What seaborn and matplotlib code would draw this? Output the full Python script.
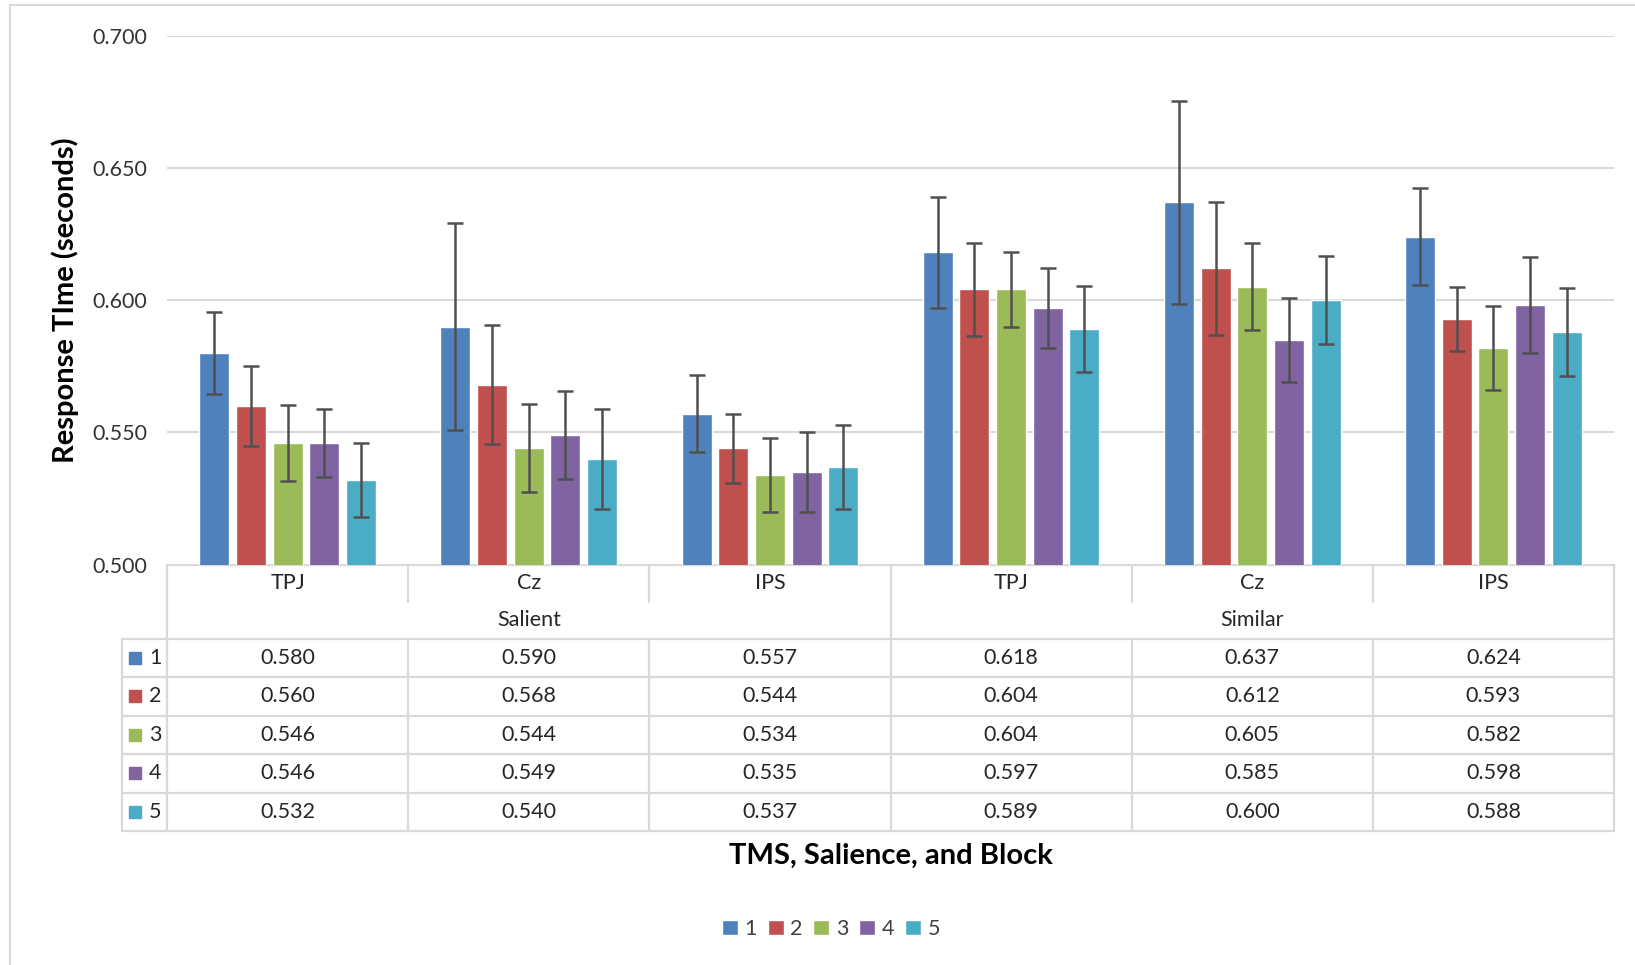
import matplotlib
matplotlib.use("Agg")
import matplotlib.pyplot as plt
from matplotlib.patches import Patch
import seaborn as sns
import pandas as pd

sites = ["TPJ", "Cz", "IPS", "TPJ", "Cz", "IPS"]
salience = ["Salient", "Salient", "Salient", "Similar", "Similar", "Similar"]
blocks = ["1", "2", "3", "4", "5"]
colors = ["#4F81BD", "#C0504D", "#9BBB59", "#8064A2", "#4BACC6"]

block1 = [0.580, 0.590, 0.557, 0.618, 0.637, 0.624]
block2 = [0.560, 0.568, 0.544, 0.604, 0.612, 0.593]
block3 = [0.546, 0.544, 0.534, 0.604, 0.605, 0.582]
block4 = [0.546, 0.549, 0.535, 0.597, 0.585, 0.598]
block5 = [0.532, 0.540, 0.537, 0.589, 0.600, 0.588]

err1 = [0.0155, 0.039, 0.0146, 0.021, 0.0384, 0.0185]
err2 = [0.015, 0.0226, 0.0131, 0.0175, 0.0251, 0.0121]
err3 = [0.0144, 0.0167, 0.014, 0.014, 0.0165, 0.0159]
err4 = [0.013, 0.0165, 0.015, 0.015, 0.0158, 0.0182]
err5 = [0.0139, 0.019, 0.0158, 0.0163, 0.0167, 0.0167]

values = [block1, block2, block3, block4, block5]
errors = [err1, err2, err3, err4, err5]

conds = [s + " " + t for s, t in zip(salience, sites)]
rows = []
for b, vals in zip(blocks, values):
    for c, v in zip(conds, vals):
        rows.append({"cond": c, "block": b, "rt": v})
df = pd.DataFrame(rows)

sns.set_style("white")
plt.rcParams["font.family"] = ["Lato", "DejaVu Sans"]

W, H = 1635, 965
fig = plt.figure(figsize=(W / 100, H / 100), dpi=100)

left_px, right_px = 167, 1614
top_px, bot_px = 35.5, 564.6
ax = fig.add_axes([left_px / W, 1 - bot_px / H, (right_px - left_px) / W, (bot_px - top_px) / H])

sns.barplot(data=df, x="cond", y="rt", hue="block", order=conds, hue_order=blocks,
            palette=colors, errorbar=None, width=0.76, gap=0.18, legend=False,
            saturation=1, ax=ax, zorder=2)

for cont, err in zip(ax.containers, errors):
    xs = [p.get_x() + p.get_width() / 2 for p in cont]
    ys = [p.get_height() for p in cont]
    ax.errorbar(xs, ys, yerr=err, fmt="none", ecolor="#505050", elinewidth=1.8,
                capsize=5.5, capthick=1.8, zorder=3)

ax.set_ylim(0.5, 0.7)
ax.set_xlim(-0.5, len(conds) - 0.5)
ax.set_yticks([0.5, 0.55, 0.6, 0.65, 0.7])
ax.set_yticklabels(["%.3f" % t for t in [0.5, 0.55, 0.6, 0.65, 0.7]], fontsize=15.5, color="#333333")
ax.tick_params(axis="y", length=0, pad=14)
ax.set_xticks([])
ax.set_xlabel("")
ax.set_ylabel("")
ax.yaxis.grid(True, color="#D9D9D9", linewidth=1.5, zorder=0)
ax.set_axisbelow(True)
for s in ax.spines.values():
    s.set_visible(False)

# overlay in pixel coords for data table, titles and border
ov = fig.add_axes([0, 0, 1, 1], zorder=-1)
ov.set_xlim(0, W)
ov.set_ylim(H, 0)
ov.axis("off")

lc = "#D9D9D9"
lw = 1.6
ncol = len(conds)
colw = (right_px - left_px) / ncol
col_edges = [left_px + i * colw for i in range(ncol + 1)]
hdr_left = 122
r0 = bot_px
r1 = r0 + 37.5
r2 = r1 + 36.6
row_h = 38.5
r_end = r2 + row_h * len(blocks)

# chart border
ov.plot([10, W], [5, 5], color=lc, lw=1.5)
ov.plot([10, 10], [5, H], color=lc, lw=1.5)

# table lines
ov.plot([left_px, right_px], [r0, r0], color=lc, lw=lw)
ov.plot([left_px, left_px], [r0, r_end], color=lc, lw=lw)
ov.plot([right_px, right_px], [r0, r_end], color=lc, lw=lw)
ov.plot([hdr_left, hdr_left], [r2, r_end], color=lc, lw=lw)
for i in range(1, ncol):
    ov.plot([col_edges[i], col_edges[i]], [r0, r1], color=lc, lw=lw)
    ov.plot([col_edges[i], col_edges[i]], [r2, r_end], color=lc, lw=lw)
ov.plot([col_edges[3], col_edges[3]], [r1, r2], color=lc, lw=lw)
for k in range(len(blocks) + 1):
    y = r2 + k * row_h
    ov.plot([hdr_left, right_px], [y, y], color=lc, lw=lw)

txt = dict(fontsize=15.5, color="#262626", ha="center", va="center")
for i, s in enumerate(sites):
    ov.text((col_edges[i] + col_edges[i + 1]) / 2, (r0 + r1) / 2, s, **txt)
for j, g in enumerate(["Salient", "Similar"]):
    ov.text((col_edges[3 * j] + col_edges[3 * j + 3]) / 2, (r1 + r2) / 2, g, **txt)
for k, (b, vals) in enumerate(zip(blocks, values)):
    yc = r2 + (k + 0.5) * row_h
    ov.add_patch(plt.Rectangle((hdr_left + 7, yc - 6), 12, 12, color=colors[k]))
    ov.text(hdr_left + 33, yc, b, fontsize=15.5, color="#262626", ha="center", va="center")
    for i, v in enumerate(vals):
        ov.text((col_edges[i] + col_edges[i + 1]) / 2, yc, "%.3f" % v, **txt)

ov.text(65, 300, "Response TIme (seconds)", rotation=90, fontsize=21, fontweight="bold",
        color="#000000", ha="center", va="center")
ov.text((left_px + right_px) / 2, 856, "TMS, Salience, and Block", fontsize=21,
        fontweight="bold", color="#000000", ha="center", va="center")

handles = [Patch(facecolor=c, label=b) for c, b in zip(colors, blocks)]
fig.legend(handles=handles, loc="center", bbox_to_anchor=(831 / W, 1 - 929 / H), ncol=5,
           frameon=False, fontsize=15.5, handlelength=0.75, handleheight=0.75,
           handletextpad=0.3, columnspacing=0.5, labelcolor="#404040")

fig.savefig("out.png", dpi=100)
